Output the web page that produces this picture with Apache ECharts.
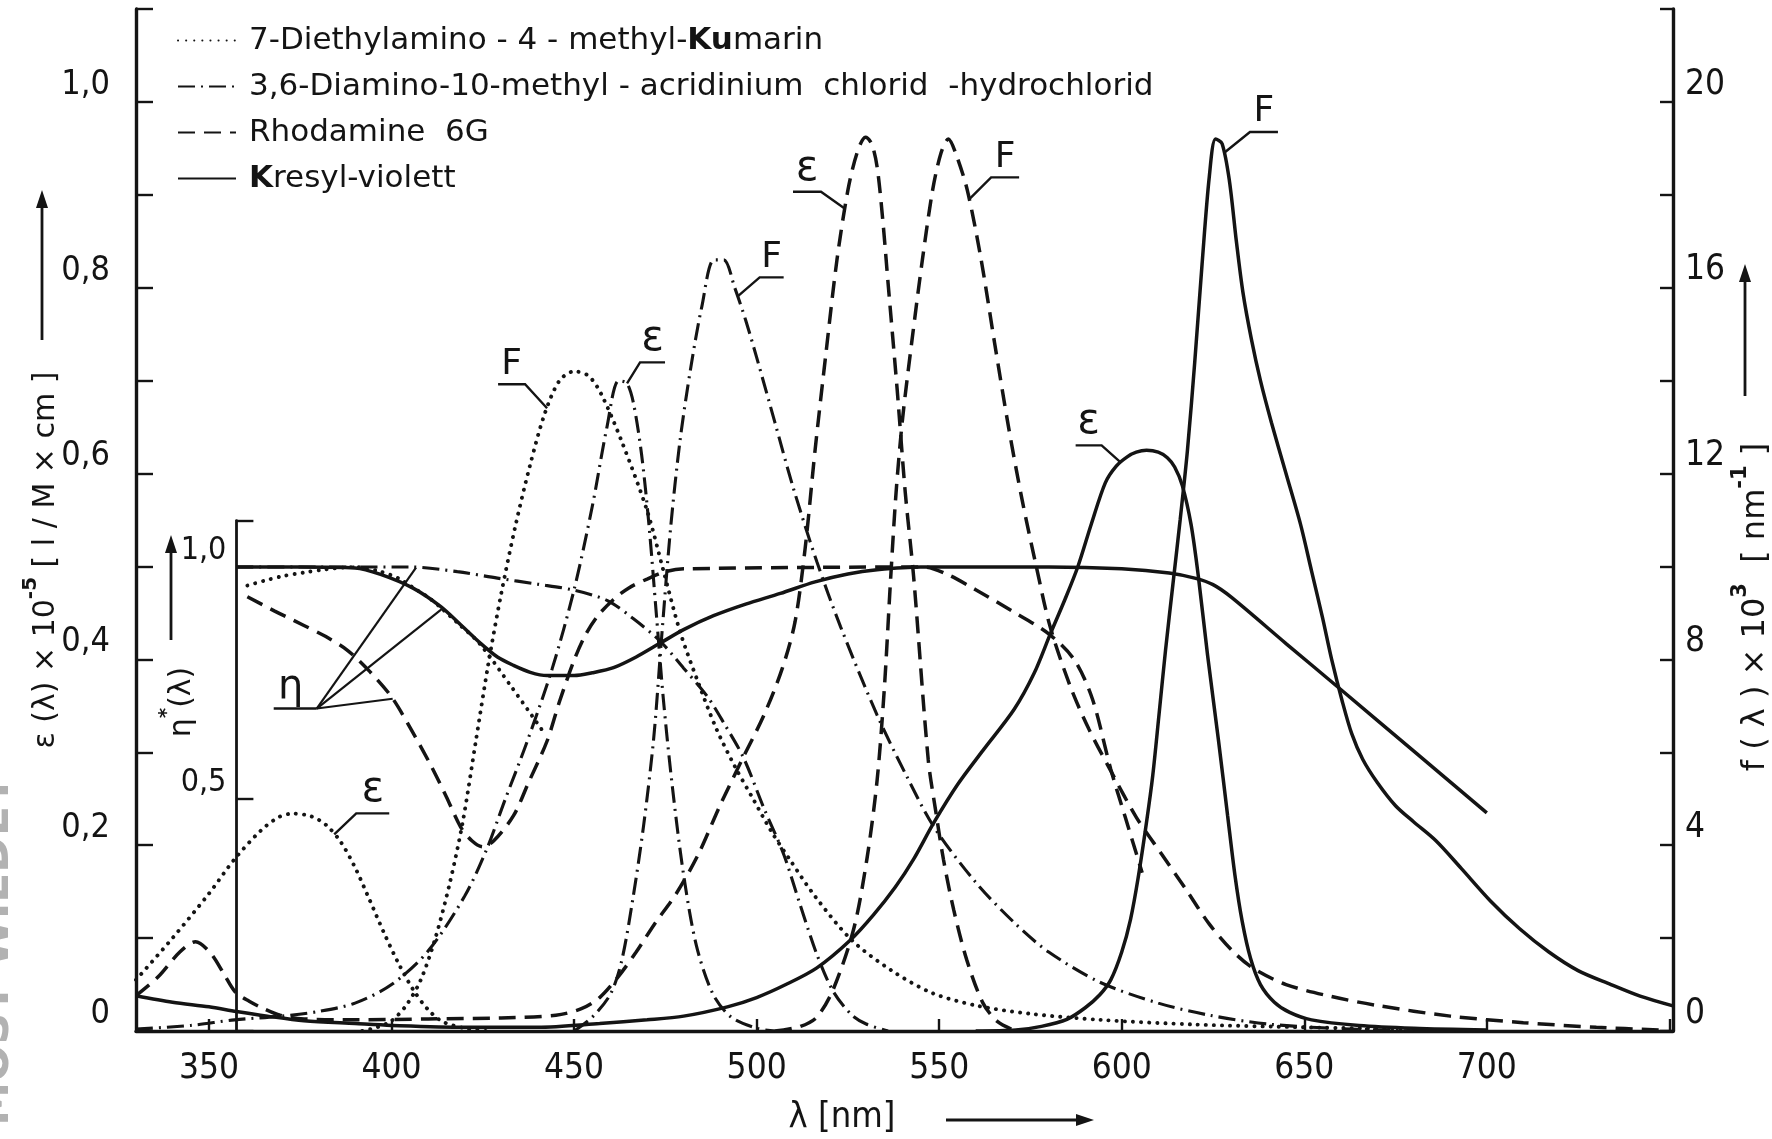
<!DOCTYPE html>
<html lang="de">
<head>
<meta charset="utf-8">
<style>
  html, body { margin: 0; background: #fff; }
  #chart { width: 1772px; height: 1139px; }
</style>
</head>
<body>
<div id="chart"></div>
<script src="https://fastly.jsdelivr.net/npm/echarts@6.0.0/dist/echarts.min.js"></script>
<script>
// Farbstoffe (Legende)
const dyes = [
  '7-Diethylamino-4-methyl-Kumarin',
  '3,6-Diamino-10-methyl-acridinium chlorid-hydrochlorid',
  'Rhodamine 6G',
  'Kresyl-violett'
];
const legendLabels = [
  '7-Diethylamino - 4 - methyl-{b|Ku}marin',
  '3,6-Diamino-10-methyl - acridinium  chlorid  -hydrochlorid',
  'Rhodamine  6G',
  '{b|K}resyl-violett'
];

// Achsen
const xLabelValues = [350, 400, 450, 500, 550, 600, 650, 700];
const xTickValues = [350, 400, 450, 500, 550, 600, 650, 700, 750];

// [lambda nm, epsilon x 1e-5]  (linke Achse)
const kumarinEps = [[330,0.055],[340,0.1],[350,0.148],[357,0.185],[364,0.215],[369,0.23],[373,0.234],[378,0.231],[382,0.222],[386,0.204],[390,0.176],[394,0.141],[398,0.105],[402,0.072],[406,0.044],[410,0.023],[414,0.01],[420,0.003],[426,0]];
const acridEps = [[330,0.002],[345,0.006],[357,0.012],[370,0.016],[380,0.021],[390,0.03],[400,0.05],[410,0.086],[420,0.145],[426,0.195],[431,0.248],[437,0.31],[444,0.39],[450,0.475],[455,0.565],[459,0.65],[462.2,0.7],[464.5,0.697],[466.3,0.675],[468.5,0.62],[470.5,0.545],[472.5,0.45],[474.5,0.355],[477,0.26],[480,0.168],[483.5,0.092],[488,0.04],[493,0.015],[500,0.003],[505,0]];
const rhodEps = [[330,0.038],[336,0.058],[342,0.085],[346.3,0.096],[350.4,0.084],[354,0.062],[357.2,0.042],[361,0.032],[365,0.024],[369.5,0.017],[376,0.013],[390,0.012],[410,0.013],[430,0.014],[445,0.017],[452,0.024],[457,0.036],[462,0.058],[467,0.085],[472,0.115],[478,0.148],[484,0.19],[490,0.243],[496,0.292],[502,0.34],[507,0.39],[510.5,0.44],[513.3,0.52],[516,0.625],[519,0.73],[522,0.83],[525,0.905],[527.5,0.945],[529.8,0.962],[531.5,0.955],[533,0.93],[534.5,0.875],[536,0.805],[538.5,0.69],[540.7,0.58],[543,0.489],[547,0.292],[549,0.238],[551.2,0.184],[554,0.13],[557.6,0.076],[562,0.03],[566,0.01],[571,0]];
const kresylEps = [[330,0.038],[340,0.031],[350,0.026],[357.5,0.021],[366,0.016],[376,0.011],[390,0.008],[400,0.006],[420,0.004],[440,0.004],[457,0.008],[470,0.012],[480,0.016],[492,0.026],[500,0.036],[508,0.05],[516.5,0.068],[525.7,0.098],[532,0.125],[538,0.155],[543,0.185],[548.5,0.224],[555,0.265],[562,0.302],[570.5,0.346],[576,0.385],[580.5,0.428],[584.5,0.465],[588,0.5],[591.7,0.546],[595.5,0.59],[598.5,0.608],[601.5,0.618],[604,0.623],[606.8,0.625],[610,0.623],[612.5,0.617],[614.5,0.607],[616.6,0.587],[619,0.545],[621,0.489],[623.5,0.405],[626.5,0.313],[629,0.232],[631,0.168],[633,0.118],[635.3,0.078],[638,0.05],[641.8,0.031],[646,0.02],[652,0.012],[665,0.006],[680,0.003],[700,0.001]];

// [lambda nm, f x 1e3 nm^-1]  (rechte Achse)
const kumarinF = [[392,0],[396,0.08],[400,0.22],[404,0.55],[408,1.1],[412,2.0],[416,3.2],[419.5,4.5],[423,6.2],[426.5,7.9],[430,9.4],[434,10.9],[438,12.2],[442,13.3],[446,14.0],[450,14.2],[454,14.1],[457.5,13.7],[463,12.7],[470,11.2],[474.5,9.9],[479,8.6],[484,7.5],[489,6.5],[494,5.7],[499,5.0],[504,4.3],[509,3.7],[516,2.9],[526,1.96],[537,1.3],[548,0.82],[560,0.55],[575,0.37],[594,0.24],[620,0.14],[650,0.08],[680,0.04]];
const acridF = [[450,0],[455,0.3],[460,0.8],[463,1.5],[466,2.8],[469,4.4],[471.8,6.3],[474,8.5],[476.4,10.8],[479,12.7],[482,14.3],[485,15.6],[488.3,16.6],[491,16.6],[494,16.0],[497,15.3],[500,14.5],[505,13.1],[510,11.7],[516.5,10.1],[523,8.7],[533,6.8],[541,5.5],[548.5,4.4],[560,3.2],[571,2.3],[580,1.7],[594,1.05],[610,0.6],[624,0.34],[640,0.15],[660,0.05],[680,0]];
const rhodF = [[505,0],[512,0.1],[516.5,0.3],[521,0.9],[526.6,2.2],[530.2,3.7],[533,5.4],[535,7.4],[536.6,9.6],[538.2,11.6],[540,13.2],[542.6,14.9],[545.4,16.6],[548.2,18.1],[550.5,18.9],[552.5,19.2],[554.5,18.9],[557.7,18.1],[561.5,16.6],[565.2,14.8],[569,13.0],[572.8,11.4],[576.6,10.0],[580.4,8.7],[586,7.4],[591,6.5],[597,5.6],[604,4.6],[611,3.8],[618,3.0],[624,2.3],[630,1.75],[636,1.35],[645,1.0],[657,0.75],[670,0.55],[690,0.32],[710,0.18],[730,0.08],[748,0.02]];
const kresylF = [[560,0],[571,0.02],[578,0.1],[585,0.25],[590,0.5],[594,0.78],[597,1.1],[600,1.7],[602.4,2.4],[604.5,3.3],[606.8,4.5],[608.5,5.5],[610.2,6.8],[612,8.2],[614,9.6],[616,11.0],[618,12.5],[620,14.4],[622,16.5],[624,18.4],[625.7,19.2],[627.5,19.1],[629.5,18.3],[631.4,17.0],[633.2,15.9],[635.5,14.9],[638,14.0],[641,13.1],[645,12.0],[649,10.9],[652,9.9],[655,8.9],[657.5,8.0],[660.4,7.1],[663,6.4],[666,5.85],[670,5.35],[675,4.85],[680,4.5],[686,4.1],[693,3.5],[701,2.8],[709,2.2],[717,1.7],[725,1.3],[734,1.0],[742,0.75],[751,0.54]];

// [lambda nm, eta*]  (innere Achse)
const kumarinEta = [[360.5,0.96],[365,0.97],[370,0.98],[376,0.988],[382,0.995],[390,1.0],[397,0.99],[402,0.975],[406,0.955],[410,0.935],[413.4,0.913],[418,0.88],[424,0.836],[433,0.74],[442,0.64]];
const acridEta = [[357.5,1.0],[380,1.0],[405,1.0],[418,0.99],[429,0.976],[440,0.963],[450,0.95],[459,0.928],[466,0.89],[473.6,0.84],[480,0.782],[486.4,0.722],[491,0.664],[496.4,0.589],[502,0.48],[507.4,0.381],[512,0.27],[516.5,0.165],[521,0.085],[526,0.035],[530,0.015],[536,0]];
const rhodEta = [[360.5,0.936],[368,0.905],[376,0.874],[382,0.85],[388,0.82],[394,0.775],[400,0.72],[405,0.655],[410.6,0.575],[415,0.505],[418.9,0.44],[422,0.41],[425,0.397],[428,0.41],[433.4,0.464],[437.5,0.535],[442.6,0.625],[446,0.71],[449.9,0.797],[453,0.852],[456.3,0.893],[460.8,0.93],[465,0.955],[470,0.974],[475,0.99],[480,0.996],[546,1.0],[552,0.985],[560,0.951],[570,0.905],[580,0.856],[587,0.8],[592,0.715],[597,0.564],[601,0.46],[605.6,0.341]];
const kresylEta = [[357.5,1.0],[375,1.0],[390,0.998],[397,0.984],[406,0.954],[413.4,0.915],[419,0.875],[424.3,0.836],[429,0.806],[433.4,0.788],[438,0.773],[442.6,0.766],[450,0.766],[455,0.772],[460.8,0.783],[467,0.806],[473.6,0.836],[480,0.865],[488.2,0.895],[497,0.92],[506.5,0.943],[516,0.968],[525,0.985],[533,0.994],[545,1.0],[580,1.0],[600,0.996],[613,0.987],[620,0.976],[625,0.962],[630,0.935],[645,0.835],[660,0.736],[680,0.603],[700,0.47]];

// Beschriftungen an den Kurven: Kurve, Wellenlaenge des Ansatzpunkts
const curveNotes = [
  { txt: 'ε', arr: kumarinEps, yi: 0, lam: 384.3, ex: 22, ey: -21, bar: 33 },
  { txt: 'F', arr: kumarinF, yi: 1, lam: 442.6, ex: -22, ey: -24, bar: -27 },
  { txt: 'ε', arr: acridEps, yi: 0, lam: 464.5, ex: 13, ey: -21, bar: 25 },
  { txt: 'F', arr: acridF, yi: 1, lam: 494.8, ex: 22, ey: -19, bar: 24 },
  { txt: 'ε', arr: rhodEps, yi: 0, lam: 524.2, ex: -24, ey: -17, bar: -28 },
  { txt: 'F', arr: rhodF, yi: 1, lam: 558.2, ex: 22, ey: -22, bar: 28 },
  { txt: 'ε', arr: kresylEps, yi: 0, lam: 599.7, ex: -19, ey: -17, bar: -26 },
  { txt: 'F', arr: kresylF, yi: 1, lam: 628, ex: 26, ey: -21, bar: 28 }
];

const INK = '#141414';
const NARROW = "'Liberation Sans Narrow', 'DejaVu Sans Condensed', 'DejaVu Sans', sans-serif";
const SANS = "'DejaVu Sans', sans-serif";

const W = 1772, H = 1139;
const X_MIN = 330, X_MAX = 751, ETA_X0 = 357.5;
const G = { left: 136, right: 99, top: 9, bottom: 108 };
const plotW = W - G.left - G.right;
const baseY = H - G.bottom;
const pxPerNm = plotW / (X_MAX - X_MIN);
const etaPx = 464;            // Pixel je Einheit eta*
const etaLeft = G.left + (ETA_X0 - X_MIN) * pxPerNm;
const etaTop = baseY - 1.1 * etaPx;

const lineStyles = [
  { type: [0.1, 8], width: 3.9, cap: 'round' },
  { type: [17, 6, 2, 6], width: 3.1, cap: 'butt' },
  { type: [17, 9], width: 3.5, cap: 'butt' },
  { type: 'solid', width: 3.5, cap: 'butt' }
];
const dyeData = [
  { eps: kumarinEps, f: kumarinF, eta: kumarinEta },
  { eps: acridEps, f: acridF, eta: acridEta },
  { eps: rhodEps, f: rhodF, eta: rhodEta },
  { eps: kresylEps, f: kresylF, eta: kresylEta }
];

const series = [];
dyes.forEach(function (name, i) {
  const ls = lineStyles[i];
  const base = {
    type: 'line', name: name, symbol: 'none', showSymbol: false,
    smooth: 0.3, silent: true, animation: false,
    itemStyle: { color: INK },
    lineStyle: { color: INK, width: ls.width, type: ls.type, cap: ls.cap }
  };
  series.push(Object.assign({}, base, { xAxisIndex: 0, yAxisIndex: 0, data: dyeData[i].eps }));
  series.push(Object.assign({}, base, { xAxisIndex: 0, yAxisIndex: 1, data: dyeData[i].f }));
  series.push(Object.assign({}, base, { xAxisIndex: 1, yAxisIndex: 2, data: dyeData[i].eta }));
});

const axisLine = { show: true, lineStyle: { color: INK, width: 3.4 } };
const tickLine = { color: INK, width: 2.4 };

const option = {
  backgroundColor: '#fff',
  animation: false,
  grid: [
    { left: G.left, right: G.right, top: G.top, bottom: G.bottom, containLabel: false, outerBoundsMode: 'none' },
    { left: etaLeft, right: G.right, top: etaTop, bottom: G.bottom, containLabel: false, outerBoundsMode: 'none' }
  ],
  legend: {
    data: dyes,
    orient: 'vertical',
    left: 172, top: 20,
    itemWidth: 58, itemHeight: 16, itemGap: 15,
    selectedMode: false,
    itemStyle: { opacity: 0 },
    formatter: function (n) { return legendLabels[dyes.indexOf(n)]; },
    textStyle: {
      color: INK, fontFamily: SANS, fontSize: 31, padding: [0, 0, 0, 8],
      rich: { b: { color: INK, fontFamily: SANS, fontSize: 31, fontWeight: 'bold' } }
    }
  },
  xAxis: [
    {
      gridIndex: 0, type: 'value', min: X_MIN, max: X_MAX,
      axisLine: axisLine,
      axisTick: { show: true, inside: true, length: 12, customValues: xTickValues, lineStyle: tickLine },
      axisLabel: { customValues: xLabelValues, margin: 20, color: INK, fontFamily: NARROW, fontSize: 35 },
      splitLine: { show: false }
    },
    { gridIndex: 1, type: 'value', min: ETA_X0, max: X_MAX, show: false, splitLine: { show: false } }
  ],
  yAxis: [
    {
      gridIndex: 0, type: 'value', position: 'left', min: 0, max: 1.1, interval: 0.1,
      axisLine: axisLine,
      axisTick: { show: true, inside: true, length: 17, lineStyle: tickLine },
      axisLabel: {
        margin: 26, color: INK, fontFamily: NARROW, fontSize: 34, verticalAlign: 'bottom',
        formatter: function (v) {
          const t = Math.round(v * 10);
          if (t % 2 || t > 10) return '';
          return t === 0 ? '0' : (t / 10).toFixed(1).replace('.', ',');
        }
      },
      splitLine: { show: false }
    },
    {
      gridIndex: 0, type: 'value', position: 'right', min: 0, max: 22, interval: 2,
      axisLine: axisLine,
      axisTick: { show: true, inside: true, length: 13, lineStyle: tickLine },
      axisLabel: {
        margin: 12, color: INK, fontFamily: NARROW, fontSize: 35, verticalAlign: 'bottom',
        formatter: function (v) { return (v % 4 === 0 && v <= 20) ? String(v) : ''; }
      },
      splitLine: { show: false }
    },
    {
      gridIndex: 1, type: 'value', position: 'left', min: 0, max: 1.1, interval: 0.5,
      axisLine: { show: true, lineStyle: { color: INK, width: 2.8 } },
      axisTick: { show: true, inside: true, length: 17, lineStyle: tickLine },
      axisLabel: {
        margin: 10, color: INK, fontFamily: NARROW, fontSize: 32, verticalAlign: 'bottom',
        formatter: function (v) {
          const t = Math.round(v * 10);
          return t === 5 ? '0,5' : (t === 10 ? '1,0' : '');
        }
      },
      splitLine: { show: false }
    }
  ],
  series: series
};

const chart = echarts.init(document.getElementById('chart'), null, { renderer: 'canvas' });
chart.setOption(option);

// ---- Beschriftungen, Pfeile ----
function valueAt(arr, x) {
  for (let i = 1; i < arr.length; i++) {
    if (arr[i][0] >= x) {
      const a = arr[i - 1], b = arr[i];
      return a[1] + (x - a[0]) / (b[0] - a[0]) * (b[1] - a[1]);
    }
  }
  return arr[arr.length - 1][1];
}
function toPx(xi, yi, lam, val) {
  return chart.convertToPixel({ xAxisIndex: xi, yAxisIndex: yi }, [lam, val]);
}
function arrow(x1, y1, x2, y2) {
  const a = Math.atan2(y2 - y1, x2 - x1), L = 18, w = 6;
  const bx = x2 - L * Math.cos(a), by = y2 - L * Math.sin(a);
  return [
    { type: 'line', shape: { x1: x1, y1: y1, x2: bx, y2: by }, style: { stroke: INK, lineWidth: 2.8 } },
    { type: 'polygon', shape: { points: [[x2, y2], [bx + w * Math.sin(a), by - w * Math.cos(a)], [bx - w * Math.sin(a), by + w * Math.cos(a)]] }, style: { fill: INK } }
  ];
}
function vtext(x, y, text, rich) {
  return { type: 'text', x: x, y: y, rotation: Math.PI / 2, style: { text: text, rich: rich, align: 'center', verticalAlign: 'middle', fill: INK } };
}

const gfx = [];
curveNotes.forEach(function (n) {
  const p = toPx(0, n.yi, n.lam, valueAt(n.arr, n.lam));
  const ex = p[0] + n.ex, ey = p[1] + n.ey;
  gfx.push({ type: 'polyline', shape: { points: [p, [ex, ey], [ex + n.bar, ey]] }, style: { stroke: INK, lineWidth: 2.4, fill: null } });
  gfx.push({ type: 'text', x: ex + n.bar / 2, y: ey - 2, style: { text: n.txt, align: 'center', verticalAlign: 'bottom', fontFamily: SANS, fontSize: n.txt === 'F' ? 36 : 42, fill: INK } });
});

// eta-Zeiger
const hub = toPx(1, 2, 379.5, 0.695);
gfx.push({ type: 'line', shape: { x1: hub[0] - 43, y1: hub[1], x2: hub[0], y2: hub[1] }, style: { stroke: INK, lineWidth: 2.4 } });
[[acridEta, 406.7], [kresylEta, 414], [rhodEta, 400.3]].forEach(function (t) {
  const q = toPx(1, 2, t[1], valueAt(t[0], t[1]));
  gfx.push({ type: 'line', shape: { x1: hub[0], y1: hub[1], x2: q[0], y2: q[1] }, style: { stroke: INK, lineWidth: 2.2 } });
});
gfx.push({ type: 'text', x: hub[0] - 26, y: hub[1] - 1, style: { text: 'η', align: 'center', verticalAlign: 'bottom', fontFamily: SANS, fontSize: 40, fill: INK } });

// Achsentitel
const richL = {
  t: { fontFamily: SANS, fontSize: 30, fill: INK, lineHeight: 40, verticalAlign: 'bottom' },
  s: { fontFamily: SANS, fontSize: 20, fill: INK, fontWeight: 'bold', lineHeight: 40, verticalAlign: 'top' }
};
const richR = {
  t: { fontFamily: SANS, fontSize: 32, fill: INK, lineHeight: 42, verticalAlign: 'bottom' },
  s: { fontFamily: SANS, fontSize: 21, fill: INK, fontWeight: 'bold', lineHeight: 42, verticalAlign: 'top' }
};
gfx.push(vtext(41, 560, '{t|ε (λ) × 10}{s|-5}{t| [ l / M × cm ]}', richL));
gfx.push.apply(gfx, arrow(42, 340, 42, 190));
gfx.push(vtext(1751, 607, '{t|f ( λ ) × 10}{s|3}{t|  [ nm}{s|-1}{t| ]}', richR));
gfx.push.apply(gfx, arrow(1745, 396, 1745, 264));
gfx.push(vtext(177, 702, '{t|η}{s|*}{t|(λ)}', richL));
gfx.push.apply(gfx, arrow(171, 640, 171, 535));
gfx.push({ type: 'text', x: 842, y: 1118, style: { text: 'λ [nm]', align: 'center', verticalAlign: 'middle', fontFamily: NARROW, fontSize: 36, fill: INK } });
gfx.push.apply(gfx, arrow(946, 1120, 1094, 1120));

// Stempel am linken Rand
gfx.push({ type: 'text', x: -3, y: 950, rotation: Math.PI / 2, style: { text: 'MOST WIEDEY', align: 'center', verticalAlign: 'middle', fontFamily: SANS, fontWeight: 'bold', fontSize: 44, fill: '#b2b2b2' } });

chart.setOption({ graphic: { elements: gfx } });
window.addEventListener('resize', chart.resize);
</script>
</body>
</html>
